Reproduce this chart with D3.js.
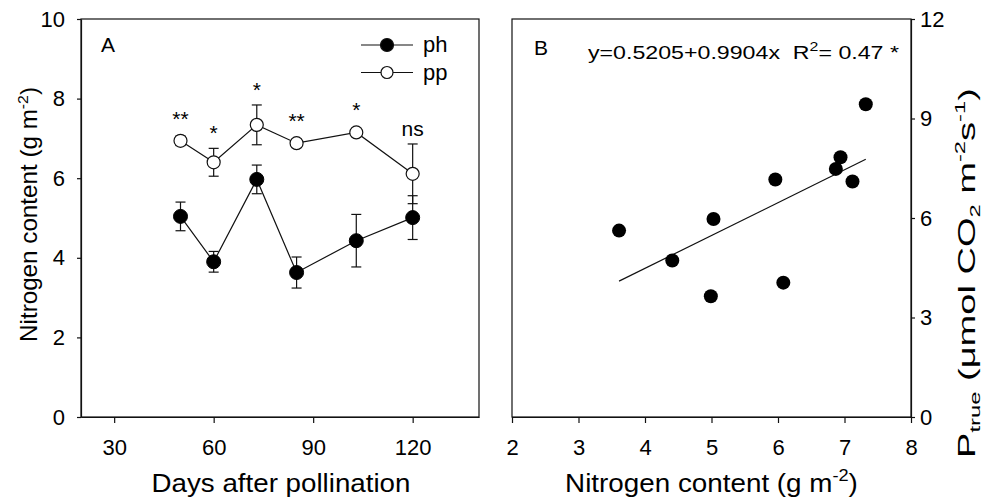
<!DOCTYPE html>
<html>
<head>
<meta charset="utf-8">
<script src="https://cdn.jsdelivr.net/npm/d3@7"></script>
<style>
  html, body { margin: 0; padding: 0; background: #fff; }
  svg { display: block; font-family: "Liberation Sans", Arial, sans-serif; }
</style>
</head>
<body>
<svg id="chart" width="987" height="502"></svg>
<script>
// ---------- data ----------
const days   = [50, 60, 73, 85, 103, 120];
const ph     = [5.04, 3.90, 5.97, 3.63, 4.43, 5.01];
const phErr  = [0.36, 0.26, 0.36, 0.39, 0.66, 0.55];
const pp     = [6.94, 6.40, 7.34, 6.88, 7.15, 6.11];
const ppErr  = [0.12, 0.35, 0.50, 0.10, 0.10, 0.75];
const sig    = ["**", "*", "*", "**", "*", "ns"];

const daysTicks = [30, 60, 90, 120];
const nTicksA   = [0, 2, 4, 6, 8, 10];

const nitrogenB = [3.61, 4.41, 4.99, 5.03, 5.96, 6.08, 6.87, 6.94, 7.12, 7.32];
const ptrueB    = [5.62, 4.72, 3.64, 5.97, 7.16, 4.05, 7.48, 7.83, 7.10, 9.43];
const fitIntercept = 0.5205;
const fitSlope     = 0.9904;
const nTicksB = [2, 3, 4, 5, 6, 7, 8];
const pTicksB = [0, 3, 6, 9, 12];

// ---------- layout ----------
const svg = d3.select("#chart");
const A = {x0: 81, x1: 479, y0: 19, y1: 417};
const B = {x0: 512, x1: 911, y0: 19, y1: 417};
const tickFont = 22;

function styleAxis(g) {
  g.select(".domain").attr("stroke", "#111").attr("stroke-width", 1.2);
  g.selectAll(".tick line").attr("stroke", "#111").attr("stroke-width", 1.2);
  g.selectAll(".tick text").attr("font-size", tickFont).attr("fill", "#000")
    .attr("font-family", "Liberation Sans, Arial, sans-serif");
}

function fitText(textSel, target) {
  const len = textSel.node().getComputedTextLength();
  const s = target / len;
  textSel.attr("transform", `scale(${s},1)`);
}

// ---------- Panel A ----------
const xA = d3.scaleLinear().domain([20, 140]).range([A.x0, A.x1]);
const yA = d3.scaleLinear().domain([0, 10]).range([A.y1, A.y0]);

const gA = svg.append("g");
gA.append("rect").attr("x", A.x0).attr("y", A.y0)
  .attr("width", A.x1 - A.x0).attr("height", A.y1 - A.y0)
  .attr("fill", "none").attr("stroke", "#111").attr("stroke-width", 1.2);

gA.append("g").attr("transform", `translate(0,${A.y1})`)
  .call(d3.axisBottom(xA).tickValues(daysTicks).tickFormat(d3.format("d"))
    .tickSize(6).tickPadding(16).tickSizeOuter(0))
  .call(styleAxis);
gA.append("g").attr("transform", `translate(${A.x0},0)`)
  .call(d3.axisLeft(yA).tickValues(nTicksA).tickFormat(d3.format("d"))
    .tickSize(4).tickPadding(12).tickSizeOuter(0))
  .call(styleAxis);

const lineA = d3.line().x(d => xA(d[0])).y(d => yA(d[1]));
const phPts = days.map((d, i) => [d, ph[i], phErr[i]]);
const ppPts = days.map((d, i) => [d, pp[i], ppErr[i]]);

function errBars(g, pts) {
  const eb = g.append("g").attr("stroke", "#111").attr("stroke-width", 1.2);
  pts.forEach(p => {
    const cx = xA(p[0]), yt = yA(p[1] + p[2]), yb = yA(p[1] - p[2]);
    eb.append("line").attr("x1", cx).attr("x2", cx).attr("y1", yt).attr("y2", yb);
    eb.append("line").attr("x1", cx - 5).attr("x2", cx + 5).attr("y1", yt).attr("y2", yt);
    eb.append("line").attr("x1", cx - 5).attr("x2", cx + 5).attr("y1", yb).attr("y2", yb);
  });
}
errBars(gA, ppPts);
errBars(gA, phPts);

gA.append("path").datum(ppPts).attr("d", lineA).attr("fill", "none").attr("stroke", "#111").attr("stroke-width", 1.2);
gA.append("path").datum(phPts).attr("d", lineA).attr("fill", "none").attr("stroke", "#111").attr("stroke-width", 1.2);

gA.selectAll("circle.pp").data(ppPts).join("circle").attr("class", "pp")
  .attr("cx", d => xA(d[0])).attr("cy", d => yA(d[1])).attr("r", 6.5)
  .attr("fill", "#fff").attr("stroke", "#111").attr("stroke-width", 1.2);
gA.selectAll("circle.ph").data(phPts).join("circle").attr("class", "ph")
  .attr("cx", d => xA(d[0])).attr("cy", d => yA(d[1])).attr("r", 7)
  .attr("fill", "#000").attr("stroke", "#000").attr("stroke-width", 1);

gA.selectAll("text.sig").data(ppPts).join("text").attr("class", "sig")
  .attr("x", d => xA(d[0]))
  .attr("y", d => Math.min(yA(d[1] + d[2]), yA(d[1]) - 7) - 8)
  .attr("text-anchor", "middle").attr("font-size", 21)
  .text((d, i) => sig[i]);

gA.append("text").attr("x", 101).attr("y", 52).attr("font-size", 21).text("A");

const leg = [{label: "ph", y: 45, fill: "#000", r: 6.5}, {label: "pp", y: 72.5, fill: "#fff", r: 6}];
leg.forEach(l => {
  gA.append("line").attr("x1", 361).attr("x2", 413).attr("y1", l.y).attr("y2", l.y)
    .attr("stroke", "#111").attr("stroke-width", 1.2);
  gA.append("circle").attr("cx", 387).attr("cy", l.y).attr("r", l.r)
    .attr("fill", l.fill).attr("stroke", "#111").attr("stroke-width", 1.2);
  gA.append("text").attr("x", 423).attr("y", l.y + 7).attr("font-size", 22).text(l.label);
});

const xtA = svg.append("g").attr("transform", "translate(281,492)")
  .append("text").attr("text-anchor", "middle").attr("font-size", 26).text("Days after pollination");
fitText(xtA, 259);

const ytA = svg.append("g").attr("transform", "translate(37,214.5) rotate(-90)")
  .append("text").attr("text-anchor", "middle").attr("font-size", 23);
ytA.append("tspan").text("Nitrogen content (g m");
ytA.append("tspan").attr("font-size", 15).attr("dy", -9).text("-2");
ytA.append("tspan").attr("dy", 9).text(")");
fitText(ytA, 255);

// ---------- Panel B ----------
const xB = d3.scaleLinear().domain([2, 8]).range([B.x0, B.x1]);
const yB = d3.scaleLinear().domain([0, 12]).range([B.y1, B.y0]);
const gB = svg.append("g");
gB.append("rect").attr("x", B.x0).attr("y", B.y0)
  .attr("width", B.x1 - B.x0).attr("height", B.y1 - B.y0)
  .attr("fill", "none").attr("stroke", "#111").attr("stroke-width", 1.2);

gB.append("g").attr("transform", `translate(0,${B.y1})`)
  .call(d3.axisBottom(xB).tickValues(nTicksB).tickFormat(d3.format("d"))
    .tickSize(6).tickPadding(16).tickSizeOuter(0))
  .call(styleAxis);
gB.append("g").attr("transform", `translate(${B.x1},0)`)
  .call(d3.axisRight(yB).tickValues(pTicksB).tickFormat(d3.format("d"))
    .tickSize(4).tickPadding(5).tickSizeOuter(0))
  .call(styleAxis);

const xMin = d3.min(nitrogenB), xMax = d3.max(nitrogenB);
gB.append("line")
  .attr("x1", xB(xMin)).attr("y1", yB(fitIntercept + fitSlope * xMin))
  .attr("x2", xB(xMax)).attr("y2", yB(fitIntercept + fitSlope * xMax))
  .attr("stroke", "#111").attr("stroke-width", 1.2);

gB.selectAll("circle.pt").data(nitrogenB.map((n, i) => [n, ptrueB[i]])).join("circle")
  .attr("class", "pt").attr("cx", d => xB(d[0])).attr("cy", d => yB(d[1]))
  .attr("r", 7).attr("fill", "#000");

gB.append("text").attr("x", 534).attr("y", 55).attr("font-size", 21).text("B");

const eq = svg.append("g").attr("transform", "translate(588,59)")
  .append("text").attr("font-size", 19);
eq.append("tspan").text("y=0.5205+0.9904x\u00A0\u00A0R");
eq.append("tspan").attr("font-size", 13).attr("dy", -8).text("2");
eq.append("tspan").attr("dy", 8).text("= 0.47 *");
fitText(eq, 311);

const xtB = svg.append("g").attr("transform", "translate(711.5,492)")
  .append("text").attr("text-anchor", "middle").attr("font-size", 26);
xtB.append("tspan").text("Nitrogen content (g m");
xtB.append("tspan").attr("font-size", 17).attr("dy", -11).text("-2");
xtB.append("tspan").attr("dy", 11).text(")");
fitText(xtB, 293);

const ytB = svg.append("g").attr("transform", "translate(975,273) rotate(-90)")
  .append("text").attr("text-anchor", "middle").attr("font-size", 24);
ytB.append("tspan").text("P");
ytB.append("tspan").attr("font-size", 15).attr("dy", 5).text("true");
ytB.append("tspan").attr("dy", -5).text(" (\u03BCmol CO");
ytB.append("tspan").attr("font-size", 15).attr("dy", 5).text("2");
ytB.append("tspan").attr("dy", -5).text(" m");
ytB.append("tspan").attr("font-size", 15).attr("dy", -10).text("-2");
ytB.append("tspan").attr("dy", 10).text("s");
ytB.append("tspan").attr("font-size", 15).attr("dy", -10).text("-1");
ytB.append("tspan").attr("dy", 10).text(")");
fitText(ytB, 370);
</script>
</body>
</html>
